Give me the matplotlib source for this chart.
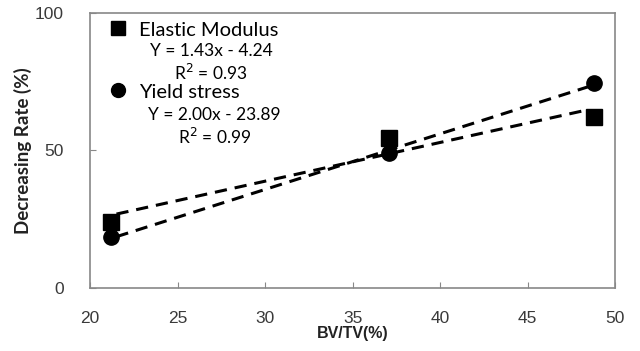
import numpy as np
import matplotlib.pyplot as plt

bvtv = [21.2, 37.1, 48.8]
elastic = [24.0, 54.5, 62.0]
yield_stress = [18.5, 49.0, 74.5]

fig, ax = plt.subplots(figsize=(6.4, 3.51), dpi=100)
fig.subplots_adjust(left=0.141, right=0.961, top=0.963, bottom=0.18)

# Trend lines (linear fit) over the data range
xs = np.array([min(bvtv) + 0.3, max(bvtv) - 0.3])
for ys in (elastic, yield_stress):
    k, b = np.polyfit(bvtv, ys, 1)
    ax.plot(xs, k * xs + b, '--', color='black', lw=2.2, dashes=(4, 2.6), zorder=2)

ax.plot(bvtv, elastic, 's', color='black', ms=11, zorder=3)
ax.plot(bvtv, yield_stress, 'o', color='black', ms=11, zorder=3)

ax.set_xlim(20, 50)
ax.set_ylim(0, 100)
ax.set_xticks(range(20, 51, 5))
ax.set_yticks([0, 50, 100])
ax.tick_params(direction='in', length=4, color='#888888')
for t in ax.get_xticklabels() + ax.get_yticklabels():
    t.set_fontfamily('Liberation Sans')
    t.set_fontsize(12.5)
    t.set_color('#3a3a3a')
ax.tick_params(axis='x', pad=17)
ax.tick_params(axis='y', pad=19)
for s in ax.spines.values():
    s.set_color('#888888')
    s.set_linewidth(1.2)

ax.set_xlabel('BV/TV(%)', family='Liberation Sans', fontsize=11.5,
              fontweight='bold', labelpad=0, color='#222222')
ax.set_ylabel('Decreasing Rate (%)', family='Lato', fontsize=13.5,
              fontweight='bold', labelpad=2, color='#222222')

# Legend-style annotation
ax.plot([21.6], [94.5], 's', color='black', ms=10, clip_on=False)
ax.plot([21.6], [72.0], 'o', color='black', ms=10, clip_on=False)
ax.text(22.8, 93.8, 'Elastic Modulus', family='Lato', fontsize=14.5, va='center')
ax.text(26.9, 86.2, 'Y = 1.43x - 4.24', family='Lato', fontsize=12.5, va='center', ha='center')
ax.text(26.9, 78.3, 'R$^2$ = 0.93', family='Lato', fontsize=12.5, va='center', ha='center')
ax.text(22.8, 71.0, 'Yield stress', family='Lato', fontsize=14.5, va='center')
ax.text(27.1, 62.8, 'Y = 2.00x - 23.89', family='Lato', fontsize=12.5, va='center', ha='center')
ax.text(27.1, 55.0, 'R$^2$ = 0.99', family='Lato', fontsize=12.5, va='center', ha='center')

plt.savefig('out.png')
